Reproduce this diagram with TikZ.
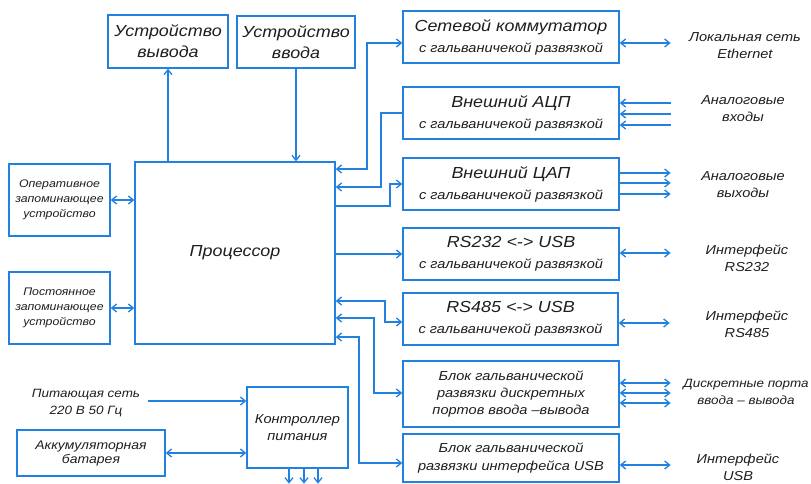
\documentclass[tikz,border=0pt]{standalone}
\usepackage{fontspec}
\setmainfont{Liberation Sans}[FakeStretch=1.12]
\usetikzlibrary{arrows.meta}
\definecolor{linia}{RGB}{33,128,224}
\definecolor{tekst}{RGB}{30,30,30}
\newcommand{\razmer}[2]{\fontsize{#1}{#2}\selectfont}
\tikzset{
	every node/.style={text=tekst},
	blok/.style={draw=linia, line width=1.3pt, align=center, inner sep=0pt},
	shapka/.style={font=\itshape\razmer{13}{21}},
	nadpis/.style={align=center, inner sep=0pt, font=\itshape\razmer{13}{17}},
	svyaz/.style={draw=linia, line width=1.3pt, ->},
	>={Straight Barb[length=5pt,width=8pt]}
}
\newcommand{\blok}[6][]{\node[blok,minimum width=#4,minimum height=#5,#1] at (#2) (#3) {#6}}

\begin{document}
\begin{tikzpicture}[x=1pt,y=-1pt]
			\useasboundingbox (0,0) rectangle (811,484);
			\blok[font=\itshape\razmer{16}{21}]{168,41.5}{vyvod}{120pt}{53pt}{Устройство\\вывода};
			\blok[font=\itshape\razmer{16}{21}]{296,42}{vvod}{118pt}{52pt}{Устройство\\ввода};
			\blok[font=\itshape\razmer{16}{20}]{235,253}{cpu}{200pt}{182pt}{Процессор};
			\blok[font=\itshape\razmer{11}{15}]{59.5,200}{ozu}{101pt}{72pt}{Оперативное\\запоминающее\\устройство};
			\blok[font=\itshape\razmer{11}{15}]{59.5,308}{pzu}{101pt}{72pt}{Постоянное\\запоминающее\\устройство};
			\blok[shapka]{511,37}{switch}{216pt}{52pt}{\razmer{16}{21}Сетевой коммутатор\\с гальваничекой развязкой};
			\blok[shapka]{511,113}{adc}{216pt}{52pt}{\razmer{16}{21}Внешний АЦП\\с гальваничекой развязкой};
			\blok[shapka]{511,184}{dac}{216pt}{52pt}{\razmer{16}{21}Внешний ЦАП\\с гальваничекой развязкой};
			\blok[shapka]{511,254}{rs232}{216pt}{52pt}{\razmer{16}{21}RS232 <-> USB\\с гальваничекой развязкой};
			\blok[shapka]{510.5,319}{rs485}{215pt}{52pt}{\razmer{16}{21}RS485 <-> USB\\с гальваничекой развязкой};
			\blok[font=\itshape\razmer{13}{17}]{511,394}{dio}{216pt}{66pt}{Блок гальванической\\развязки дискретных\\портов ввода –вывода};
			\blok[font=\itshape\razmer{13}{18}]{511,458}{usb}{216pt}{48pt}{Блок гальванической\\развязки интерфейса USB};
			\blok[font=\itshape\razmer{13}{17}]{297.5,427.5}{pwr}{101pt}{81pt}{Контроллер\\питания};
			\blok[font=\itshape\razmer{12.5}{14}]{91,453}{bat}{148pt}{46pt}{Аккумуляторная\\батарея};

			\node[nadpis] (lan) at (745,46) {Локальная сеть\\Ethernet};
			\node[nadpis] (ain) at (743,109) {Аналоговые\\входы};
			\node[nadpis] (aout) at (743,185) {Аналоговые\\выходы};
			\node[nadpis] (if232) at (747,258) {Интерфейс\\RS232};
			\node[nadpis] (if485) at (747,324) {Интерфейс\\RS485};
			\node[nadpis,font=\itshape\razmer{12}{17}] (diop) at (746,392) {Дискретные порта\\ввода – вывода};
			\node[nadpis] (ifusb) at (738,467) {Интерфейс\\USB};
			\node[nadpis,font=\itshape\razmer{12}{17}] (mains) at (86,403) {Питающая сеть\\220 В 50 Гц};
			\coordinate (set) at (148,401);

			\draw[svyaz] (cpu.north -| vyvod.south) -- (vyvod.south);
			\draw[svyaz] (vvod.south) -- (vvod.south |- cpu.north);
			\draw[svyaz,<->] (ozu.east) -- (ozu.east -| cpu.west);
			\draw[svyaz,<->] (pzu.east) -- (pzu.east -| cpu.west);
			\draw[svyaz,<->] (cpu.east |- 0,169) -| (367,43) -- (switch.west |- 0,43);
			\draw[svyaz] (adc.west) -| (381,187) -- (cpu.east |- 0,187);
			\draw[svyaz] (cpu.east |- 0,206) -| (390,184) -- (dac.west);
			\draw[svyaz] (cpu.east |- rs232.west) -- (rs232.west);
			\draw[svyaz,<->] (cpu.east |- 0,301) -| (385,322) -- (rs485.west |- 0,322);
			\draw[svyaz,<->] (cpu.east |- 0,318) -| (374,393) -- (dio.west |- 0,393);
			\draw[svyaz,<->] (cpu.east |- 0,337) -| (359,463) -- (usb.west |- 0,463);

			\draw[svyaz,<->] (switch.east |- 0,43) -- ++(51,0);
			\foreach \y in {103,114,125} \draw[svyaz,<-] (adc.east |- 0,\y) -- ++(51,0);
			\foreach \y in {173,183,194} \draw[svyaz] (dac.east |- 0,\y) -- ++(51,0);
			\draw[svyaz,<->] (rs232.east |- 0,253) -- ++(51,0);
			\draw[svyaz,<->] (rs485.east |- 0,323) -- ++(51,0);
			\foreach \y in {383,393,403} \draw[svyaz,<->] (dio.east |- 0,\y) -- ++(51,0);
			\draw[svyaz,<->] (usb.east |- 0,465) -- ++(51,0);

			\draw[svyaz] (set) -- (set -| pwr.west);
			\draw[svyaz,<->] (bat.east) -- (bat.east -| pwr.west);
			\foreach \x in {289,304,318} \draw[svyaz] (pwr.south -| \x,0) -- ++(0,15);
			%\node[fit=(cpu)(pwr), draw=black] {};
\end{tikzpicture}
\end{document}
